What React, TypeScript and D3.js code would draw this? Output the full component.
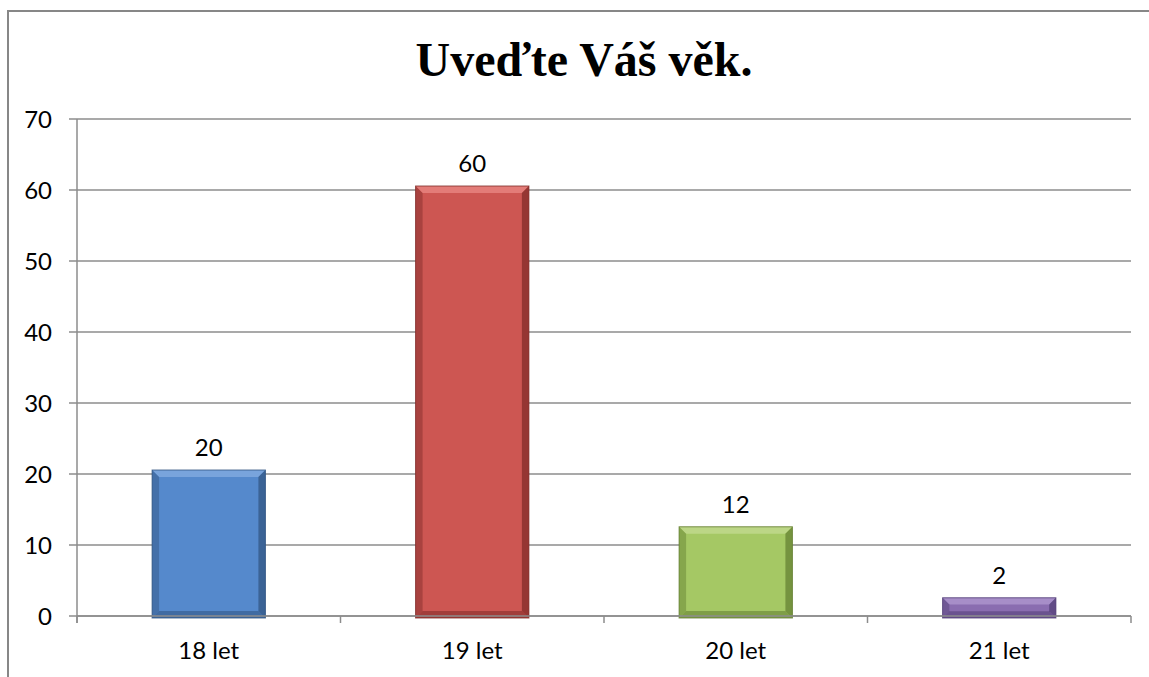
import { useEffect, useRef } from "react"
import * as d3 from "d3"

// chart data
const categories = ["18 let", "19 let", "20 let", "21 let"]
const values = [20, 60, 12, 2]
const faceColors = ["#5589cc", "#cd5652", "#a5c864", "#8a6db0"]
const lightColors = ["#80a9de", "#e6837f", "#bfd88c", "#ac94cc"]
const darkColors = ["#30527f", "#7e2a27", "#617c2f", "#503d75"]
const yTicks = [0, 10, 20, 30, 40, 50, 60, 70]
const title = "Uveďte Váš věk."

const W = 1149
const H = 677
const margin = { top: 119, right: 18, bottom: 61, left: 77 }
const font = "Lato, 'Open Sans', sans-serif"
const gridColor = "#8c8c8c"

function App() {
	const ref = useRef<SVGSVGElement>(null)

	useEffect(() => {
		const svg = d3.select(ref.current)
		svg.selectAll("*").remove()

		const x0 = margin.left
		const x1 = W - margin.right
		const yBottom = H - margin.bottom

		// outer chart frame (cut by the picture on right and bottom)
		svg
			.append("rect")
			.attr("x", 8)
			.attr("y", 11)
			.attr("width", 1152)
			.attr("height", 690)
			.attr("fill", "white")
			.attr("stroke", "#878787")
			.attr("stroke-width", 2)

		svg
			.append("text")
			.attr("x", 584)
			.attr("y", 76)
			.attr("text-anchor", "middle")
			.attr("font-family", "'Liberation Serif', 'Times New Roman', serif")
			.attr("font-weight", "bold")
			.attr("font-size", 48)
			.text(title)

		const y = d3.scaleLinear().domain([0, 70]).range([yBottom, margin.top])
		const x = d3
			.scaleBand()
			.domain(categories)
			.range([x0, x1])
			.paddingInner(0.57)
			.paddingOuter(0.285)

		const g = svg.append("g")

		// gridlines
		g.selectAll("line.grid")
			.data(yTicks)
			.enter()
			.append("line")
			.attr("class", "grid")
			.attr("x1", x0 - 8)
			.attr("x2", x1)
			.attr("y1", (d) => y(d))
			.attr("y2", (d) => y(d))
			.attr("stroke", gridColor)
			.attr("stroke-width", 1.5)

		// y axis line
		g.append("line")
			.attr("x1", x0)
			.attr("x2", x0)
			.attr("y1", y(70))
			.attr("y2", y(0) + 7)
			.attr("stroke", gridColor)
			.attr("stroke-width", 1.5)

		// x category boundary ticks
		const step = x.step()
		const bounds = d3.range(categories.length + 1).map((i) => x0 + i * step)
		g.selectAll("line.xtick")
			.data(bounds)
			.enter()
			.append("line")
			.attr("class", "xtick")
			.attr("x1", (d) => d)
			.attr("x2", (d) => d)
			.attr("y1", y(0))
			.attr("y2", y(0) + 7)
			.attr("stroke", gridColor)
			.attr("stroke-width", 1.5)

		// y tick labels
		g.selectAll("text.ylab")
			.data(yTicks)
			.enter()
			.append("text")
			.attr("class", "ylab")
			.attr("x", 52)
			.attr("y", (d) => y(d))
			.attr("dy", "0.36em")
			.attr("text-anchor", "end")
			.attr("font-family", font)
			.attr("font-size", 24)
			.text((d) => d)

		// x labels
		g.selectAll("text.xlab")
			.data(categories)
			.enter()
			.append("text")
			.attr("class", "xlab")
			.attr("x", (d) => (x(d) as number) + x.bandwidth() / 2)
			.attr("y", y(0) + 43)
			.attr("text-anchor", "middle")
			.attr("font-family", font)
			.attr("font-size", 24)
			.text((d) => d)

		// bevelled bars
		const bw = x.bandwidth()
		categories.forEach((c, i) => {
			const bx0 = x(c) as number
			const bx1 = bx0 + bw
			const by0 = y(values[i]) - 4
			const by1 = y(0) + 2
			const b = Math.min(7, (by1 - by0) / 3)
			const bar = g.append("g")
			bar.append("rect")
				.attr("x", bx0)
				.attr("y", by0)
				.attr("width", bw)
				.attr("height", by1 - by0)
				.attr("fill", faceColors[i])
			const poly = (pts: number[][], fill: string, op: number) =>
				bar.append("polygon")
					.attr("points", pts.map((p) => p.join(",")).join(" "))
					.attr("fill", fill)
					.attr("opacity", op)
			poly([[bx0, by0], [bx1, by0], [bx1 - b, by0 + b], [bx0 + b, by0 + b]], lightColors[i], 0.85)
			poly([[bx0, by0], [bx0 + b, by0 + b], [bx0 + b, by1 - b], [bx0, by1]], darkColors[i], 0.45)
			poly([[bx1, by0], [bx1 - b, by0 + b], [bx1 - b, by1 - b], [bx1, by1]], darkColors[i], 0.7)
			poly([[bx0, by1], [bx0 + b, by1 - b], [bx1 - b, by1 - b], [bx1, by1]], darkColors[i], 0.55)
			bar.append("rect")
				.attr("x", bx0)
				.attr("y", by0)
				.attr("width", bw)
				.attr("height", by1 - by0)
				.attr("fill", "none")
				.attr("stroke", darkColors[i])
				.attr("stroke-opacity", 0.8)
				.attr("stroke-width", 1)

			// value label
			g.append("text")
				.attr("x", bx0 + bw / 2)
				.attr("y", by0 - 14)
				.attr("text-anchor", "middle")
				.attr("font-family", font)
				.attr("font-size", 24)
				.text(values[i])
		})

		// axis line on top of bars
		g.append("line")
			.attr("x1", x0)
			.attr("x2", x1)
			.attr("y1", y(0))
			.attr("y2", y(0))
			.attr("stroke", gridColor)
			.attr("stroke-width", 1.5)
	}, [])

	return (
		<svg
			ref={ref}
			width={W}
			height={H}
			style={{ position: "absolute", left: 0, top: 0 }}
		></svg>
	)
}

export default App
